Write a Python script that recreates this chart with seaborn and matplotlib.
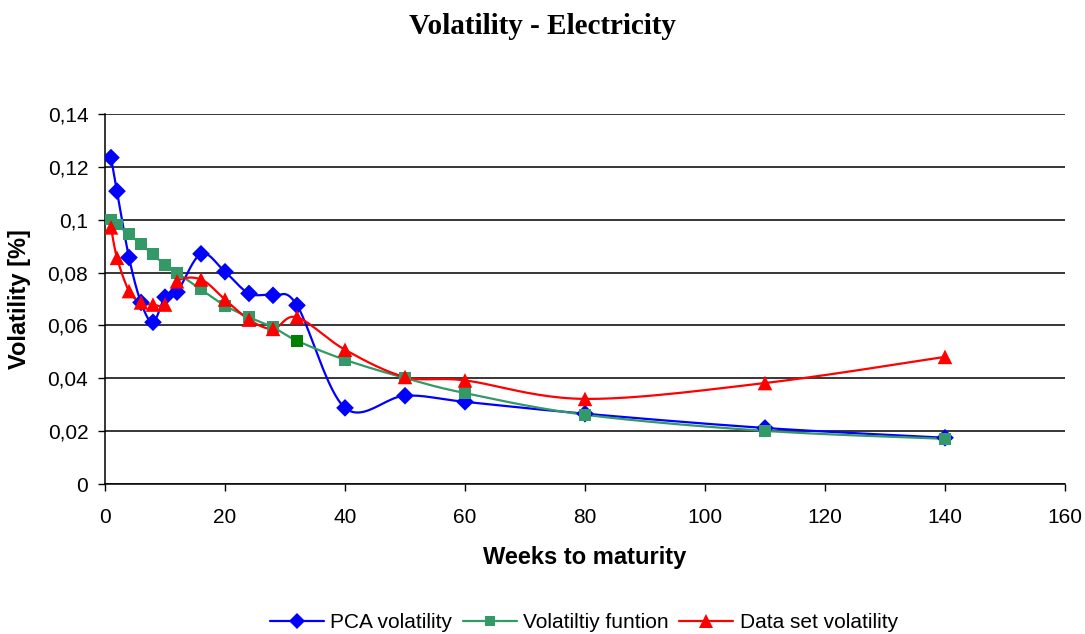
import numpy as np
import pandas as pd
import matplotlib
matplotlib.use("Agg")
import matplotlib.pyplot as plt
from matplotlib.lines import Line2D
from matplotlib.ticker import FuncFormatter, MultipleLocator
import seaborn as sns

# Weeks to maturity shared by all three series
weeks = [1, 2, 4, 6, 8, 10, 12, 16, 20, 24, 28, 32, 40, 50, 60, 80, 110, 140]

pca_vol = [0.1235, 0.1108, 0.0857, 0.0687, 0.0612, 0.0707, 0.0726, 0.0871, 0.0803,
           0.0721, 0.0714, 0.0676, 0.0288, 0.0334, 0.0311, 0.0266, 0.0212, 0.0175]
func_vol = [0.1001, 0.0982, 0.0945, 0.0907, 0.0869, 0.0828, 0.0799, 0.0736, 0.0675,
            0.0631, 0.0593, 0.0542, 0.0470, 0.0401, 0.0344, 0.0262, 0.0201, 0.0171]
data_vol = [0.0971, 0.0856, 0.0730, 0.0687, 0.0679, 0.0679, 0.0767, 0.0774, 0.0698,
            0.0622, 0.0587, 0.0631, 0.0508, 0.0405, 0.0392, 0.0322, 0.0382, 0.0481]

series_names = ["PCA volatility", "Volatiltiy funtion", "Data set volatility"]
series_colors = ["#0000FF", "#339966", "#FF0000"]
series_markers = ["D", "s", "^"]
series_msize = [9, 8.5, 10.5]
y_ticks = [0, 0.02, 0.04, 0.06, 0.08, 0.10, 0.12, 0.14]


def smooth(xs, ys, steps=24):
    """Parametric Catmull-Rom curve through the points (spreadsheet-style smoothing)."""
    p = np.column_stack([xs, ys]).astype(float)
    p = np.vstack([p[0], p, p[-1]])
    out = []
    t = np.linspace(0, 1, steps, endpoint=False)[:, None]
    for i in range(1, len(p) - 2):
        p0, p1, p2, p3 = p[i - 1], p[i], p[i + 1], p[i + 2]
        c1 = p1 + (p2 - p0) / 6.0
        c2 = p2 - (p3 - p1) / 6.0
        seg = ((1 - t) ** 3) * p1 + 3 * ((1 - t) ** 2) * t * c1 + 3 * (1 - t) * t ** 2 * c2 + t ** 3 * p2
        out.append(seg)
    out.append(p[-2][None, :])
    out = np.vstack(out)
    return out[:, 0], out[:, 1]


sns.set_theme(style="white")
plt.rcParams["font.family"] = ["Liberation Sans", "DejaVu Sans"]
plt.rcParams["text.color"] = "black"
plt.rcParams["axes.labelcolor"] = "black"
plt.rcParams["xtick.color"] = "black"
plt.rcParams["ytick.color"] = "black"

fig = plt.figure(figsize=(10.85, 6.34), dpi=100)
ax = fig.add_axes([105 / 1085, 1 - 484 / 634, (1065 - 105) / 1085, (484 - 114) / 634])

for name, vals, col, mk, ms in zip(series_names, [pca_vol, func_vol, data_vol],
                                   series_colors, series_markers, series_msize):
    sx, sy = smooth(weeks, vals)
    curve = pd.DataFrame({"x": sx, "y": sy})
    sns.lineplot(data=curve, x="x", y="y", sort=False, estimator=None,
                 color=col, lw=1.6, ax=ax, zorder=3)
    pts = pd.DataFrame({"x": weeks, "y": vals})
    sns.scatterplot(data=pts, x="x", y="y", marker=mk, s=ms ** 2, color=col,
                    edgecolor="none", linewidth=0, ax=ax, zorder=4)

# one highlighted point on the volatility function
ax.scatter([weeks[11]], [func_vol[11]], marker="s", s=8.5 ** 2, color="#008000",
           edgecolor="none", zorder=5)

ax.set_xlim(0, 160)
ax.set_ylim(0, 0.14)
ax.xaxis.set_major_locator(MultipleLocator(20))
ax.set_yticks(y_ticks)
ax.yaxis.set_major_formatter(FuncFormatter(lambda v, p: f"{v:g}".replace(".", ",")))
ax.grid(axis="y", color="black", lw=1.1)
ax.set_axisbelow(True)
for s in ["top", "right"]:
    ax.spines[s].set_visible(False)
for s in ["left", "bottom"]:
    ax.spines[s].set_color("black")
    ax.spines[s].set_linewidth(1.1)
ax.tick_params(axis="both", which="major", direction="out", length=5, width=1,
               color="black", labelsize=15, labelcolor="black",
               left=True, bottom=True)
ax.tick_params(axis="x", pad=12)
ax.tick_params(axis="y", pad=7)

ax.set_xlabel("Weeks to maturity", fontsize=17, fontweight="bold", labelpad=14,
              color="black")
ax.set_ylabel("Volatility [%]", fontsize=17, fontweight="bold", labelpad=12,
              color="black")

fig.suptitle("Volatility - Electricity", x=0.5, y=0.98, fontsize=21, color="black",
             fontweight="bold", family=["Liberation Serif", "DejaVu Serif"])

handles = [Line2D([0], [0], color=c, lw=1.6, marker=m, markersize=ms * 0.9,
                  markeredgewidth=0)
           for c, m, ms in zip(series_colors, series_markers, series_msize)]
fig.legend(handles, series_names, loc="center", bbox_to_anchor=(0.538, 0.018),
           ncol=3, frameon=False, fontsize=15, handlelength=2.6,
           columnspacing=0.5, handletextpad=0.3, labelcolor="black")

fig.savefig("out.png", dpi=100)
